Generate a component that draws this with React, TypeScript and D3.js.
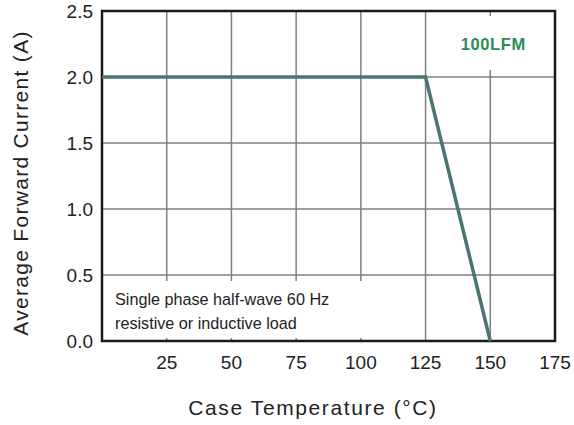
import * as d3 from "d3";

const xTicks = [25, 50, 75, 100, 125, 150, 175];
const yTicks = [0, 0.5, 1.0, 1.5, 2.0, 2.5];
const tempC = [0, 125, 150];
const currentA = [2.0, 2.0, 0.0];
const noteLines = ["Single phase half-wave 60 Hz", "resistive or inductive load"];
const flowLabel = "100LFM";

const W = 574;
const H = 425;
const M = { top: 11, right: 19, bottom: 84, left: 102 };

const App = () => {
  const x = d3.scaleLinear().domain([0, 175]).range([M.left, W - M.right]);
  const y = d3.scaleLinear().domain([0, 2.5]).range([H - M.bottom, M.top]);
  const line = d3
    .line<number>()
    .x((d, i) => x(tempC[i]))
    .y((d) => y(d));
  const font = "'Liberation Sans', Arial, sans-serif";

  return (
    <svg
      width={W}
      height={H}
      style={{ position: "absolute", left: 0, top: 0 }}
      fontFamily={font}
    >
      <rect width={W} height={H} fill="#fff" />
      {/* grid */}
      {xTicks.map((t) => (
        <line key={"gx" + t} x1={x(t)} x2={x(t)} y1={y(2.5)} y2={y(0)} stroke="#7a8280" strokeWidth={1.5} />
      ))}
      {yTicks.map((t) => (
        <line key={"gy" + t} x1={x(0)} x2={x(175)} y1={y(t)} y2={y(t)} stroke="#7a8280" strokeWidth={1.5} />
      ))}
      {/* label backgrounds */}
      <rect x={x(0) + 2} y={y(0.5) + 6} width={x(118) - x(0)} height={y(0) - y(0.5) - 9} fill="#fff" />
      <rect x={x(136)} y={y(2.5) + 5} width={x(164) - x(136)} height={y(2.0) - y(2.5) - 12} fill="#fff" />
      {/* frame */}
      <rect
        x={x(0)}
        y={y(2.5)}
        width={x(175) - x(0)}
        height={y(0) - y(2.5)}
        fill="none"
        stroke="#1a1a1a"
        strokeWidth={2.5}
      />
      {/* curve */}
      <path d={line(currentA) || ""} fill="none" stroke="#4b7573" strokeWidth={3.5} strokeLinejoin="miter" />
      {/* annotations */}
      <text
        x={x(150) + 3}
        y={y(2.5) + 39}
        fill="#2e8b57"
        fontSize={16.5}
        fontWeight="bold"
        letterSpacing={0.6}
        textAnchor="middle"
      >
        {flowLabel}
      </text>
      {noteLines.map((s, i) => (
        <text key={s} x={x(0) + 13} y={y(0) - 36 + i * 24} fontSize={16.2} fill="#222">
          {s}
        </text>
      ))}
      {/* ticks */}
      {yTicks.map((t) => (
        <text key={"ty" + t} x={x(0) - 9} y={y(t) + 7} fontSize={19} textAnchor="end" fill="#222">
          {t.toFixed(1)}
        </text>
      ))}
      {xTicks.map((t) => (
        <text key={"tx" + t} x={x(t)} y={y(0) + 28} fontSize={19} textAnchor="middle" fill="#222">
          {t}
        </text>
      ))}
      {/* axis titles */}
      <text x={313} y={H - 10} fontSize={21} letterSpacing={1.6} textAnchor="middle" fill="#222">
        Case Temperature (°C)
      </text>
      <text
        transform={`translate(28, ${183}) rotate(-90)`}
        fontSize={21}
        letterSpacing={1.3}
        textAnchor="middle"
        fill="#222"
      >
        Average Forward Current (A)
      </text>
    </svg>
  );
};

export default App;
